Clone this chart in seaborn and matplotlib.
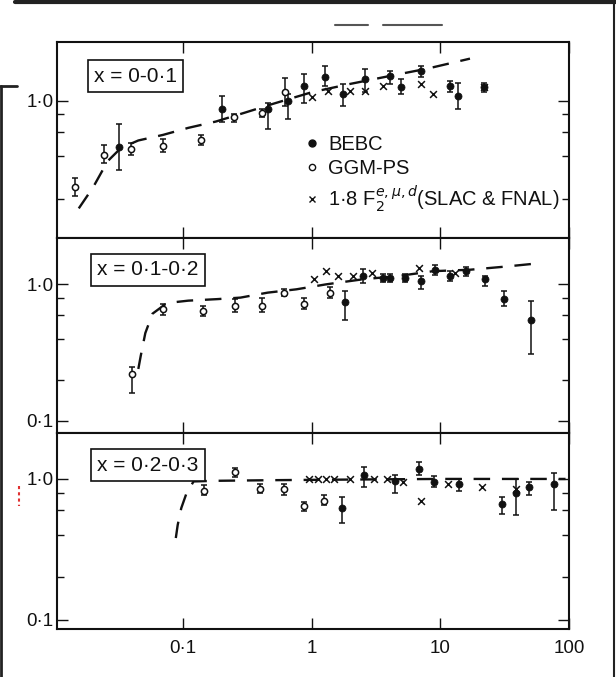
import numpy as np
import pandas as pd
import matplotlib
matplotlib.use("Agg")
import matplotlib.pyplot as plt
from matplotlib.lines import Line2D
from matplotlib.ticker import NullLocator, FixedLocator, NullFormatter, FixedFormatter
import seaborn as sns

# ---------------- data ----------------
panel_labels = ["x = 0-0·1", "x = 0·1-0·2", "x = 0·2-0·3"]
legend_labels = ["BEBC", "GGM-PS", "1·8 F$_2^{e,\\mu,d}$(SLAC & FNAL)"]
x_tick_vals = [0.1, 1, 10, 100]
x_tick_labels = ["0·1", "1", "10", "100"]
y_tick_vals = [0.1, 1.0]
y_tick_labels = ["0·1", "1·0"]
y_minor_vals = [0.2, 0.4, 0.6, 0.8]

# panel 1 : x = 0-0.1
p1_bebc_x = [0.032, 0.20, 0.455, 0.65, 0.87, 1.28, 1.76, 2.6, 4.07, 4.95, 7.1, 11.8, 13.8, 21.8]
p1_bebc_y = [0.47, 0.87, 0.87, 1.00, 1.28, 1.47, 1.12, 1.43, 1.51, 1.25, 1.64, 1.28, 1.09, 1.25]
p1_bebc_lo = [0.32, 0.70, 0.63, 0.74, 0.97, 1.28, 0.92, 1.15, 1.32, 1.12, 1.47, 1.15, 0.87, 1.15]
p1_bebc_hi = [0.68, 1.09, 0.97, 1.12, 1.55, 1.78, 1.32, 1.69, 1.64, 1.43, 1.78, 1.39, 1.35, 1.35]
p1_ggm_x = [0.0145, 0.0242, 0.0397, 0.070, 0.138, 0.251, 0.413, 0.62]
p1_ggm_y = [0.24, 0.41, 0.45, 0.475, 0.52, 0.76, 0.82, 1.15]
p1_ggm_lo = [0.21, 0.36, 0.41, 0.43, 0.48, 0.71, 0.77, 0.92]
p1_ggm_hi = [0.28, 0.48, 0.50, 0.53, 0.57, 0.81, 0.88, 1.45]
p1_slac_x = [1.0, 1.35, 2.0, 2.6, 3.6, 7.1, 8.85, 21.8]
p1_slac_y = [1.06, 1.18, 1.18, 1.18, 1.28, 1.32, 1.12, 1.25]
p1_fit_x = [0.0155, 0.02, 0.026, 0.033, 0.045, 0.07, 0.11, 0.18, 0.3, 0.5, 1, 2, 4, 8, 17]
p1_fit_y = [0.17, 0.24, 0.37, 0.46, 0.52, 0.57, 0.64, 0.71, 0.82, 0.95, 1.15, 1.32, 1.5, 1.7, 2.0]

# panel 2 : x = 0.1-0.2
p2_bebc_x = [1.82, 2.5, 3.6, 4.1, 5.3, 7.1, 9.1, 11.8, 15.8, 22.4, 31, 51]
p2_bebc_y = [0.74, 1.15, 1.12, 1.12, 1.12, 1.06, 1.28, 1.15, 1.25, 1.09, 0.78, 0.55]
p2_bebc_lo = [0.55, 1.03, 1.05, 1.04, 1.05, 0.93, 1.18, 1.06, 1.15, 0.97, 0.70, 0.31]
p2_bebc_hi = [0.90, 1.30, 1.20, 1.20, 1.20, 1.16, 1.38, 1.25, 1.35, 1.16, 0.90, 0.76]
p2_ggm_x = [0.040, 0.070, 0.142, 0.255, 0.413, 0.61, 0.87, 1.38]
p2_ggm_y = [0.22, 0.66, 0.64, 0.70, 0.70, 0.87, 0.72, 0.87]
p2_ggm_lo = [0.16, 0.60, 0.59, 0.63, 0.63, 0.82, 0.66, 0.80]
p2_ggm_hi = [0.25, 0.72, 0.70, 0.78, 0.79, 0.93, 0.80, 0.95]
p2_slac_x = [1.05, 1.3, 1.6, 2.1, 2.95, 6.8, 13.1]
p2_slac_y = [1.09, 1.25, 1.15, 1.15, 1.21, 1.32, 1.21]
p2_fit_x = [0.045, 0.047, 0.051, 0.058, 0.075, 0.11, 0.185, 0.28, 0.455, 0.76, 1.29, 2.5, 4.65, 8.8, 16.9, 32, 59]
p2_fit_y = [0.24, 0.30, 0.44, 0.61, 0.73, 0.76, 0.78, 0.80, 0.87, 0.92, 1.00, 1.09, 1.15, 1.25, 1.28, 1.35, 1.43]

# panel 3 : x = 0.2-0.3
p3_bebc_x = [1.73, 2.55, 4.45, 6.85, 8.9, 13.9, 30, 39, 49, 77]
p3_bebc_y = [0.62, 1.06, 0.97, 1.18, 0.945, 0.92, 0.66, 0.80, 0.87, 0.92]
p3_bebc_lo = [0.49, 0.88, 0.80, 1.07, 0.88, 0.82, 0.56, 0.55, 0.77, 0.60]
p3_bebc_hi = [0.74, 1.22, 1.07, 1.33, 1.05, 1.00, 0.75, 1.00, 0.95, 1.10]
p3_ggm_x = [0.147, 0.255, 0.40, 0.61, 0.87, 1.24]
p3_ggm_y = [0.82, 1.12, 0.85, 0.85, 0.64, 0.70]
p3_ggm_lo = [0.77, 1.04, 0.79, 0.77, 0.59, 0.65]
p3_ggm_hi = [0.90, 1.20, 0.92, 0.92, 0.68, 0.77]
p3_slac_x = [0.95, 1.12, 1.29, 1.5, 2.0, 3.05, 3.85, 5.1, 7.1, 11.5, 21, 39]
p3_slac_y = [1.0, 1.0, 1.0, 1.0, 1.0, 1.0, 1.0, 0.945, 0.70, 0.92, 0.87, 0.85]
p3_fit_x = [0.088, 0.091, 0.097, 0.107, 0.121, 0.18, 0.5, 2, 10, 94]
p3_fit_y = [0.38, 0.47, 0.62, 0.80, 0.96, 0.97, 0.98, 0.99, 1.0, 1.0]

panel_ylims = [(0.105, 2.63), (0.081, 2.2), (0.0857, 2.11)]
x_lim = (0.0105, 100)

# ---------------- figure ----------------
sns.set_theme(style="white")
plt.rcParams["font.family"] = ["Liberation Sans", "DejaVu Sans"]

fig = plt.figure(figsize=(6.16, 6.77), dpi=100)
fig.patch.set_facecolor("white")
left, right, top, bottom = 57 / 616, 569 / 616, 1 - 42 / 677, 1 - 629 / 677
h = (top - bottom) / 3
axes = [fig.add_axes([left, top - (i + 1) * h, right - left, h]) for i in range(3)]

panels = [
    (p1_bebc_x, p1_bebc_y, p1_bebc_lo, p1_bebc_hi, p1_ggm_x, p1_ggm_y, p1_ggm_lo, p1_ggm_hi,
     p1_slac_x, p1_slac_y, p1_fit_x, p1_fit_y),
    (p2_bebc_x, p2_bebc_y, p2_bebc_lo, p2_bebc_hi, p2_ggm_x, p2_ggm_y, p2_ggm_lo, p2_ggm_hi,
     p2_slac_x, p2_slac_y, p2_fit_x, p2_fit_y),
    (p3_bebc_x, p3_bebc_y, p3_bebc_lo, p3_bebc_hi, p3_ggm_x, p3_ggm_y, p3_ggm_lo, p3_ggm_hi,
     p3_slac_x, p3_slac_y, p3_fit_x, p3_fit_y),
]
box_pos = [(0.072, 0.825), (0.078, 0.836), (0.078, 0.837)]

ink = "#111111"
for i, (ax, pdata) in enumerate(zip(axes, panels)):
    bx, by, blo, bhi, gx, gy, glo, ghi, sx, sy, fx, fy = pdata
    ax.set_xscale("log")
    ax.set_yscale("log")
    ax.set_xlim(*x_lim)
    ax.set_ylim(*panel_ylims[i])
    ax.set_facecolor("white")

    fit = pd.DataFrame({"x": fx, "y": fy})
    sns.lineplot(data=fit, x="x", y="y", ax=ax, color=ink, lw=1.7,
                 estimator=None, sort=False, linestyle=(0, (7, 5)))

    bx_a, by_a = np.array(bx), np.array(by)
    ax.errorbar(bx_a, by_a, yerr=[by_a - np.array(blo), np.array(bhi) - by_a], fmt="none",
                ecolor=ink, elinewidth=1.1, capsize=2.2, capthick=1.1)
    gx_a, gy_a = np.array(gx), np.array(gy)
    ax.errorbar(gx_a, gy_a, yerr=[gy_a - np.array(glo), np.array(ghi) - gy_a], fmt="none",
                ecolor=ink, elinewidth=1.1, capsize=2.2, capthick=1.1)

    sns.scatterplot(x=bx, y=by, ax=ax, marker="o", s=26, color=ink, edgecolor=ink, linewidth=0.5, zorder=4)
    sns.scatterplot(x=gx, y=gy, ax=ax, marker="o", s=20, facecolor="white", edgecolor=ink, linewidth=1.1, zorder=4)
    sns.scatterplot(x=sx, y=sy, ax=ax, marker="x", s=24, color=ink, linewidth=1.1, zorder=4)

    ax.set_xlabel("")
    ax.set_ylabel("")
    ax.xaxis.set_major_locator(FixedLocator(x_tick_vals))
    ax.xaxis.set_minor_locator(NullLocator())
    if i == 2:
        ax.xaxis.set_major_formatter(FixedFormatter(x_tick_labels))
    else:
        ax.xaxis.set_major_formatter(NullFormatter())
    ax.yaxis.set_major_locator(FixedLocator(y_tick_vals))
    ax.yaxis.set_major_formatter(FixedFormatter(y_tick_labels))
    ax.yaxis.set_minor_locator(FixedLocator(y_minor_vals))
    ax.yaxis.set_minor_formatter(NullFormatter())
    ax.tick_params(which="both", direction="in", left=True, right=True, top=True, bottom=True,
                   colors=ink, labelsize=13.5, pad=2.5)
    ax.tick_params(which="major", length=8, width=1.0)
    ax.tick_params(which="minor", length=5, width=1.0)
    ax.tick_params(axis="x", pad=8)
    for sp in ax.spines.values():
        sp.set_color(ink)
        sp.set_linewidth(1.5)

    ax.text(box_pos[i][0], box_pos[i][1], panel_labels[i], transform=ax.transAxes,
            fontsize=15, color=ink, va="center", ha="left",
            bbox=dict(boxstyle="square,pad=0.3", fc="white", ec=ink, lw=1.2))

handles = [
    Line2D([], [], marker="o", ls="none", color=ink, markersize=5),
    Line2D([], [], marker="o", ls="none", mfc="white", mec=ink, markersize=4.5),
    Line2D([], [], marker="x", ls="none", color=ink, markersize=4.5),
]
axes[0].legend(handles, legend_labels, loc="upper left", bbox_to_anchor=(0.455, 0.595),
               frameon=False, fontsize=14.5, handlelength=0.8, handletextpad=0.4,
               labelspacing=0.25, borderpad=0.2, labelcolor=ink)

# scan-frame artefacts around the page
fig.add_artist(Line2D([15 / 616, 1], [1 - 1.5 / 677, 1 - 1.5 / 677], color="#222222", lw=3))
fig.add_artist(Line2D([614 / 616, 614 / 616], [1, 0], color="#222222", lw=1.5))
fig.add_artist(Line2D([1 / 616, 1 / 616], [1 - 86 / 677, 0], color="#222222", lw=2))
fig.add_artist(Line2D([0, 17 / 616], [1 - 86 / 677, 1 - 86 / 677], color="#222222", lw=2))
fig.add_artist(Line2D([19 / 616, 19 / 616], [1 - 486 / 677, 1 - 506 / 677], color="#e03030", lw=1.5,
                      ls=(0, (1.5, 1.5))))
fig.add_artist(Line2D([335 / 616, 368 / 616], [1 - 25 / 677, 1 - 25 / 677], color="#555555", lw=1.5))
fig.add_artist(Line2D([383 / 616, 442 / 616], [1 - 25 / 677, 1 - 25 / 677], color="#555555", lw=1.5))

fig.savefig("out.png", dpi=100, facecolor="white")
